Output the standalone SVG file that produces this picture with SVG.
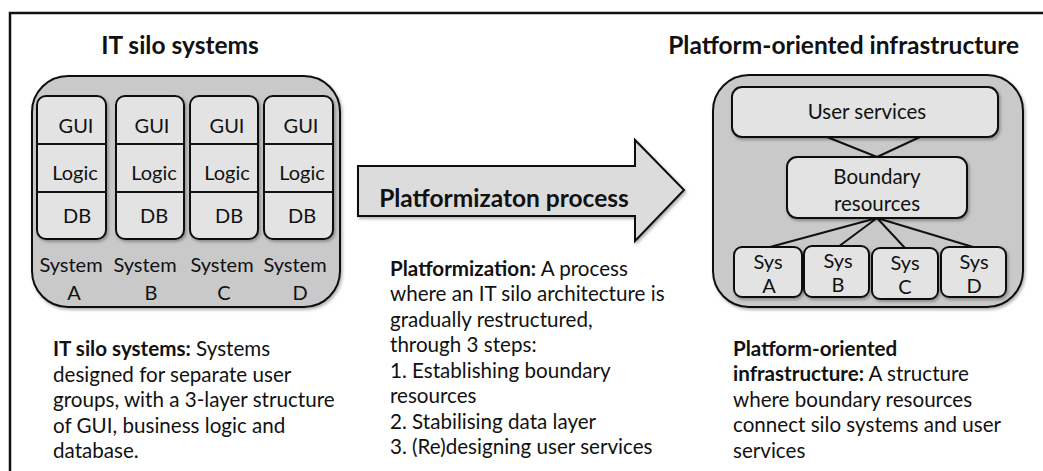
<svg xmlns="http://www.w3.org/2000/svg" width="1043" height="471" viewBox="0 0 1043 471">
<defs>
<filter id="sh" x="-10%" y="-10%" width="130%" height="130%">
<feDropShadow dx="1.5" dy="2" stdDeviation="1.5" flood-color="#000" flood-opacity="0.3"/>
</filter>
</defs>
<style>
text{font-family:Lato,"Liberation Sans",sans-serif;fill:#111;}
.t{font-size:24.5px;font-weight:bold;text-anchor:middle;}
.b{font-size:20px;text-anchor:middle;}
.bb{font-size:20.5px;text-anchor:middle;}
.d{font-size:20.6px;}
.bold{font-weight:bold;}
.cont{fill:#c9c9c9;stroke:#111;stroke-width:2;filter:url(#sh);}
.box{fill:#e3e3e3;stroke:#111;stroke-width:2;filter:url(#sh);}
.div{stroke:#111;stroke-width:2;}
.conn line{stroke:#111;stroke-width:2;}
</style>
<rect x="0" y="0" width="1043" height="471" fill="#fff"/>
<rect x="10" y="13" width="1100" height="500" fill="none" stroke="#111" stroke-width="2.5"/>

<g id="left-title"><text class="t" x="180" y="54">IT silo systems</text></g>
<g id="right-title"><text class="t" x="1019" y="54" style="text-anchor:end">Platform-oriented infrastructure</text></g>

<g id="silo-container"><rect class="cont" x="32" y="76" width="308" height="231" rx="36"/></g>

<g id="system-a">
<rect class="box" x="37" y="96" width="69" height="143" rx="9"/>
<line class="div" x1="37" y1="144" x2="106" y2="144"/><line class="div" x1="37" y1="192" x2="106" y2="192"/>
<text class="b" x="76" y="133">GUI</text><text class="b" x="75" y="180">Logic</text><text class="b" x="77" y="223">DB</text>
<text class="b" x="71" y="272">System</text><text class="b" x="74" y="300">A</text>
</g>
<g id="system-b">
<rect class="box" x="116" y="96" width="68" height="143" rx="9"/>
<line class="div" x1="116" y1="144" x2="184" y2="144"/><line class="div" x1="116" y1="192" x2="184" y2="192"/>
<text class="b" x="152" y="133">GUI</text><text class="b" x="154" y="180">Logic</text><text class="b" x="154" y="223">DB</text>
<text class="b" x="145" y="272">System</text><text class="b" x="151" y="300">B</text>
</g>
<g id="system-c">
<rect class="box" x="190" y="96" width="68" height="143" rx="9"/>
<line class="div" x1="190" y1="144" x2="258" y2="144"/><line class="div" x1="190" y1="192" x2="258" y2="192"/>
<text class="b" x="227" y="133">GUI</text><text class="b" x="227" y="180">Logic</text><text class="b" x="229" y="223">DB</text>
<text class="b" x="222" y="272">System</text><text class="b" x="224" y="300">C</text>
</g>
<g id="system-d">
<rect class="box" x="264" y="96" width="69" height="143" rx="9"/>
<line class="div" x1="264" y1="144" x2="333" y2="144"/><line class="div" x1="264" y1="192" x2="333" y2="192"/>
<text class="b" x="301" y="133">GUI</text><text class="b" x="302" y="180">Logic</text><text class="b" x="302" y="223">DB</text>
<text class="b" x="295" y="272">System</text><text class="b" x="300" y="300">D</text>
</g>

<g id="process-arrow">
<polygon points="358,166 635,166 635,140 684,190 635,241 635,216 358,216" fill="#dcdcdc" stroke="#111" stroke-width="2" filter="url(#sh)"/>
<text class="t" x="504" y="207">Platformizaton process</text>
</g>

<g id="platform-container"><rect class="cont" x="713" y="75" width="310" height="232" rx="36"/></g>

<g class="conn" id="connectors">
<line x1="827" y1="137" x2="877" y2="157"/>
<line x1="920" y1="137" x2="877" y2="157"/>
<line x1="877" y1="218" x2="770" y2="247"/>
<line x1="877" y1="218" x2="838" y2="247"/>
<line x1="877" y1="218" x2="905" y2="248"/>
<line x1="877" y1="218" x2="973" y2="247"/>
</g>

<g id="user-services">
<rect class="box" x="732" y="87" width="266" height="50" rx="10"/>
<text class="bb" x="867" y="119">User services</text>
</g>
<g id="boundary-resources">
<rect class="box" x="787" y="157" width="180" height="61" rx="10"/>
<text class="bb" x="877" y="184">Boundary</text>
<text class="bb" x="877" y="211">resources</text>
</g>
<g id="sys-a"><rect class="box" x="734" y="247" width="68" height="50" rx="8"/><text class="b" x="768" y="269">Sys</text><text class="b" x="769" y="293">A</text></g>
<g id="sys-b"><rect class="box" x="804" y="246" width="65" height="51" rx="8"/><text class="b" x="838" y="268">Sys</text><text class="b" x="838" y="292">B</text></g>
<g id="sys-c"><rect class="box" x="872" y="248" width="66" height="51" rx="8"/><text class="b" x="905" y="270">Sys</text><text class="b" x="905" y="294">C</text></g>
<g id="sys-d"><rect class="box" x="941" y="247" width="65" height="50" rx="8"/><text class="b" x="974" y="269">Sys</text><text class="b" x="974" y="293">D</text></g>

<g id="left-description">
<text class="d" x="53" y="356"><tspan class="bold">IT silo systems:</tspan> Systems</text>
<text class="d" x="53" y="382">designed for separate user</text>
<text class="d" x="53" y="407">groups, with a 3-layer structure</text>
<text class="d" x="53" y="433">of GUI, business logic and</text>
<text class="d" x="53" y="458">database.</text>
</g>
<g id="middle-description">
<text class="d" x="390" y="276"><tspan class="bold">Platformization:</tspan> A process</text>
<text class="d" x="390" y="301">where an IT silo architecture is</text>
<text class="d" x="390" y="327">gradually restructured,</text>
<text class="d" x="390" y="352">through 3 steps:</text>
<text class="d" x="390" y="378">1. Establishing boundary</text>
<text class="d" x="390" y="403">resources</text>
<text class="d" x="390" y="429">2. Stabilising data layer</text>
<text class="d" x="390" y="454">3. (Re)designing user services</text>
</g>
<g id="right-description">
<text class="d" x="733" y="356"><tspan class="bold">Platform-oriented</tspan></text>
<text class="d" x="733" y="381"><tspan class="bold">infrastructure:</tspan> A structure</text>
<text class="d" x="733" y="407">where boundary resources</text>
<text class="d" x="733" y="432">connect silo systems and user</text>
<text class="d" x="733" y="458">services</text>
</g>
</svg>
